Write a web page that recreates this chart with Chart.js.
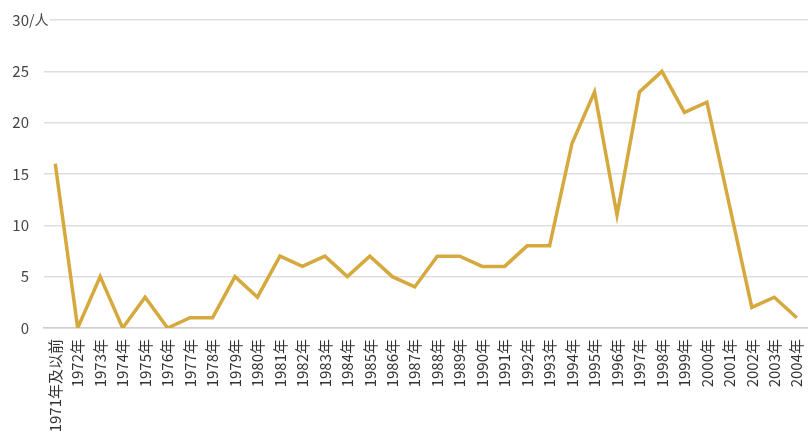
<!DOCTYPE html>
<html>
<head>
<meta charset="utf-8">
<script src="https://cdn.jsdelivr.net/npm/chart.js@4/dist/chart.umd.min.js"></script>
<style>
html,body{margin:0;padding:0;background:#fff;}
#wrap{width:808px;height:443px;position:relative;}
</style>
</head>
<body>
<div id="wrap"><canvas id="c" width="808" height="443"></canvas></div>
<script>
const categories = ["1971年及以前","1972年","1973年","1974年","1975年","1976年","1977年","1978年","1979年","1980年","1981年","1982年","1983年","1984年","1985年","1986年","1987年","1988年","1989年","1990年","1991年","1992年","1993年","1994年","1995年","1996年","1997年","1998年","1999年","2000年","2001年","2002年","2003年","2004年"];
const counts = [16,0,5,0,3,0,1,1,5,3,7,6,7,5,7,5,4,7,7,6,6,8,8,18,23,11,23,25,21,22,12,2,3,1];
const yTicks = [0,5,10,15,20,25,30];
const yUnit = "/人";

const FONT = "'Noto Sans CJK SC','Noto Sans',sans-serif";

const unitPlugin = {
  id: 'unit',
  afterDraw(chart) {
    const y = chart.scales.y;
    const ctx = chart.ctx;
    const py = y.getPixelForValue(yTicks[yTicks.length - 1]);
    ctx.save();
    ctx.font = "14px " + FONT;
    ctx.fillStyle = '#fff';
    ctx.fillRect(chart.chartArea.left - 2, py - 3, 8, 6);
    ctx.fillStyle = '#444';
    ctx.textBaseline = 'middle';
    ctx.textAlign = 'left';
    ctx.fillText(yUnit, 29, py);
    ctx.restore();
  }
};

new Chart(document.getElementById('c'), {
  type: 'line',
  data: {
    labels: categories,
    datasets: [{
      data: counts,
      borderColor: '#d5a93e',
      borderWidth: 3.5,
      pointRadius: 0,
      tension: 0,
      fill: false
    }]
  },
  options: {
    responsive: false,
    animation: false,
    layout: { padding: { top: 20, right: 0, left: 0, bottom: 0 } },
    plugins: { legend: { display: false }, tooltip: { enabled: false } },
    scales: {
      x: {
        offset: true,
        grid: { display: false, drawTicks: false },
        border: { display: true, color: '#cfcfcf', width: 1.5 },
        ticks: {
          autoSkip: false,
          maxRotation: 90,
          minRotation: 90,
          padding: 11,
          color: '#333',
          font: { family: FONT, size: 15 }
        },
        afterFit(s) { s.height = 115; s.paddingLeft = 0; s.paddingRight = 0; }
      },
      y: {
        min: 0,
        max: 30,
        afterBuildTicks(s) { s.ticks = yTicks.map(v => ({ value: v })); },
        grid: { color: '#dedede', lineWidth: 1.5, drawTicks: false },
        border: { display: false },
        ticks: {
          padding: 15,
          color: '#444',
          font: { family: FONT, size: 15 }
        },
        afterFit(s) { s.width = 44; s.paddingTop = 0; s.paddingBottom = 0; }
      }
    }
  },
  plugins: [unitPlugin]
});
</script>
</body>
</html>
